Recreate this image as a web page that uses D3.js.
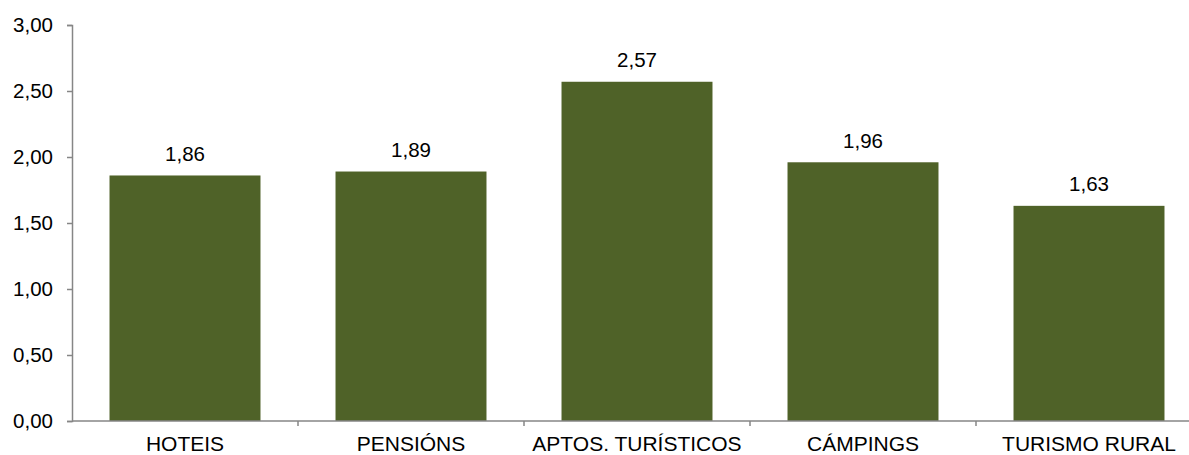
<!DOCTYPE html>
<html>
<head>
<meta charset="utf-8">
<script src="https://cdn.jsdelivr.net/npm/d3@7"></script>
<style>
  body { margin: 0; background: #fff; }
  svg text { font-family: "Liberation Sans", Arial, sans-serif; fill: #000; }
</style>
</head>
<body>
<svg></svg>
<script>
/* datos */
const categories = ['HOTEIS', 'PENSIÓNS', 'APTOS. TURÍSTICOS', 'CÁMPINGS', 'TURISMO RURAL'];
const values = [1.86, 1.89, 2.57, 1.96, 1.63];
const yTicks = [0, 0.5, 1, 1.5, 2, 2.5, 3];

const width = 1189, height = 455;
const margin = {top: 25, left: 72, bottom: 34};
const bandStep = 226;
const fontSize = '20.5px';

const svg = d3.select('svg').attr('width', width).attr('height', height);

const fmt = (v) => d3.format('.2f')(v).replace('.', ',');

const x = d3.scaleBand()
	.domain(categories)
	.range([margin.left, margin.left + bandStep * categories.length])
	.paddingInner(0.332)
	.paddingOuter(0.166);
const y = d3.scaleLinear().domain([0, 3]).range([height - margin.bottom, margin.top]);

/* barras */
svg.append('g').selectAll('rect')
	.data(values)
	.join('rect')
	.attr('x', (d, i) => x(categories[i]))
	.attr('y', (d) => y(d))
	.attr('width', x.bandwidth())
	.attr('height', (d) => y(0) - y(d))
	.attr('fill', '#4f6228');

/* etiquetas de valor */
svg.append('g').selectAll('text')
	.data(values)
	.join('text')
	.attr('x', (d, i) => x(categories[i]) + x.bandwidth() / 2)
	.attr('y', (d) => y(d) - 14.5)
	.attr('text-anchor', 'middle')
	.style('font-size', fontSize)
	.text(fmt);

/* eje y */
const yAxis = svg.append('g')
	.attr('transform', `translate(${margin.left},0)`)
	.call(d3.axisLeft(y).tickValues(yTicks).tickFormat(fmt).tickSize(5).tickPadding(14));
yAxis.select('.domain').attr('stroke', '#868686').attr('stroke-width', 1.5);
yAxis.selectAll('.tick line').attr('stroke', '#868686').attr('stroke-width', 1.5);
yAxis.selectAll('.tick text').style('font-size', fontSize).attr('fill', '#000');

/* eje x */
const xAxisG = svg.append('g').attr('transform', `translate(0,${y(0)})`);
xAxisG.append('line')
	.attr('x1', margin.left).attr('x2', margin.left + bandStep * categories.length)
	.attr('stroke', '#868686').attr('stroke-width', 1.5);
xAxisG.selectAll('.sep')
	.data(d3.range(1, categories.length))
	.join('line')
	.attr('class', 'sep')
	.attr('x1', (i) => margin.left + bandStep * i)
	.attr('x2', (i) => margin.left + bandStep * i)
	.attr('y1', 0).attr('y2', 5)
	.attr('stroke', '#868686').attr('stroke-width', 1.5);
xAxisG.selectAll('text')
	.data(categories)
	.join('text')
	.attr('x', (d) => x(d) + x.bandwidth() / 2)
	.attr('y', 30)
	.attr('text-anchor', 'middle')
	.style('font-size', '21px')
	.text((d) => d);
</script>
</body>
</html>
